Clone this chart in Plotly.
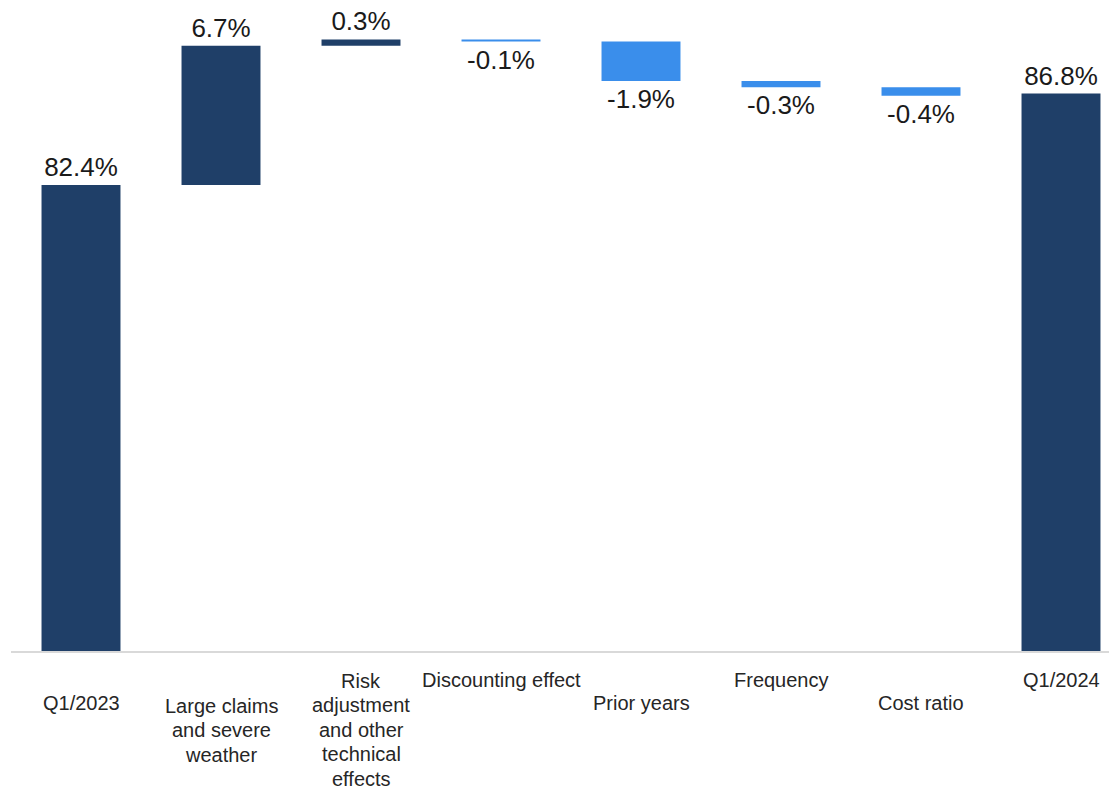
import plotly.graph_objects as go

# ---- data ----
categories = ["Q1/2023", "Large claims<br>and severe<br>weather",
              "Risk<br>adjustment<br>and other<br>technical<br>effects",
              "Discounting effect", "Prior years", "Frequency", "Cost ratio", "Q1/2024"]
values = [82.4, 6.7, 0.3, -0.1, -1.9, -0.3, -0.4, 86.8]
measures = ["absolute", "relative", "relative", "relative", "relative", "relative", "relative", "absolute"]
value_labels = ["82.4%", "6.7%", "0.3%", "-0.1%", "-1.9%", "-0.3%", "-0.4%", "86.8%"]

# ---- styling ----
NAVY = "#1F3F68"
LIGHT = "#3A8EEB"
W, H = 1117, 788
OFF = 8                      # page body margin
PLOT_BOTTOM = 651 - OFF      # px from figure top
TOP = 20                     # plot area top (px from figure top)
LEFT = 11 - OFF
label_first_line_center = [703, 706, 681, 680, 703, 680, 703, 680]
LINE_STEP = 24.4
CAT_FONT = 20

fig = go.Figure(go.Waterfall(
    x=categories,
    y=values,
    measure=measures,
    text=value_labels,
    textposition="outside",
    textfont=dict(size=26, color="#1a1a1a", family="Liberation Sans, Arial, sans-serif"),
    constraintext="none",
    cliponaxis=False,
    increasing=dict(marker=dict(color=NAVY)),
    decreasing=dict(marker=dict(color=LIGHT)),
    totals=dict(marker=dict(color=NAVY)),
    connector=dict(visible=False),
    hoverinfo="skip",
))

# category labels, one text per line so the line spacing matches the reference
for cat, c in zip(categories, label_first_line_center):
    for i, line in enumerate(cat.split("<br>")):
        center = (c - OFF) + i * LINE_STEP
        fig.add_annotation(
            x=cat, xref="x", y=0, yref="paper", yanchor="middle",
            yshift=-(center - PLOT_BOTTOM), text=line, showarrow=False,
            font=dict(size=CAT_FONT, color="#262626", family="Liberation Sans, Arial, sans-serif"),
            align="center",
        )

px_per_unit = 20.8
ymin = 60.0
ymax = ymin + (PLOT_BOTTOM - TOP) / px_per_unit

fig.update_layout(
    width=W, height=H,
    margin=dict(l=LEFT, r=0, t=TOP, b=H - PLOT_BOTTOM),
    plot_bgcolor="white", paper_bgcolor="white",
    showlegend=False,
    waterfallgap=0.436,
    xaxis=dict(type="category", range=[-0.5, -0.5 + (W - LEFT) / 140.0],
               showticklabels=False, ticks="", showgrid=False, zeroline=False,
               showline=True, linecolor="#D9D9D9", linewidth=2),
    yaxis=dict(range=[ymin, ymax], visible=False, showgrid=False, zeroline=False),
)

fig.write_html("out.html")
